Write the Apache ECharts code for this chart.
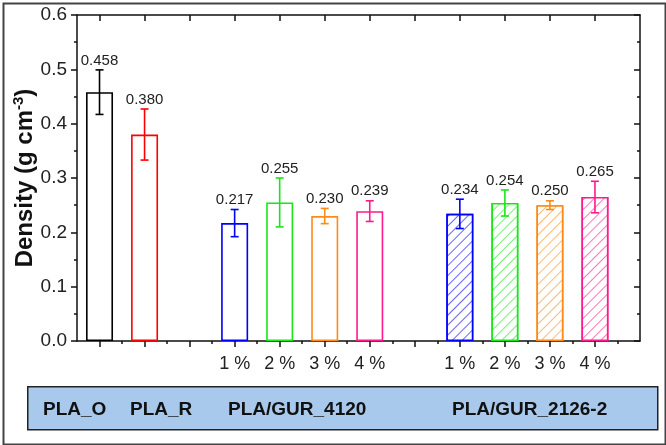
<!DOCTYPE html>
<html>
<head>
<meta charset="utf-8">
<script src="https://cdn.jsdelivr.net/npm/echarts@6/dist/echarts.min.js"></script>
<style>
  html, body { margin: 0; padding: 0; background: #fff; }
  #chart { width: 666px; height: 445px; }
</style>
</head>
<body>
<div id="chart"></div>
<script>
// bar positions on the x scale (3 and 8 are empty gaps)
const xPos = [1, 2, 4, 5, 6, 7, 9, 10, 11, 12];
const density = [0.458, 0.380, 0.217, 0.255, 0.230, 0.239, 0.234, 0.254, 0.250, 0.265];
const densityErr = [0.041, 0.047, 0.025, 0.045, 0.014, 0.019, 0.027, 0.024, 0.008, 0.029];
const hatched = [false, false, false, false, false, false, true, true, true, true];
const barColors = ["#000000", "#ff0000", "#0000ff", "#19e619", "#ff8a1a", "#ff1a8c",
  "#0000ff", "#19e619", "#ff8a1a", "#ff1a8c"];
const pctLabels = ["", "", "1 %", "2 %", "3 %", "4 %", "1 %", "2 %", "3 %", "4 %"];
const groupNames = ["PLA_O", "PLA_R", "PLA/GUR_4120", "PLA/GUR_2126-2"];
const groupNameLeft = [43, 130, 228, 452];

const font = "Liberation Sans, Arial, sans-serif";
const chart = echarts.init(document.getElementById("chart"));

const majorX = [];
const minorX = [];
for (let i = 1; i <= 12; i++) {
  majorX.push(i);
  minorX.push(i + 0.5);
}

const barData = xPos.map((x, i) => {
  const style = {
    color: "#ffffff",
    borderColor: barColors[i],
    borderWidth: 1.6,
  };
  if (hatched[i]) {
    style.decal = {
      symbol: "rect",
      symbolSize: 1,
      dashArrayX: [1, 0],
      dashArrayY: [1, 6],
      rotation: -Math.PI / 4,
      color: barColors[i] + "99",
      backgroundColor: "#ffffff",
    };
  }
  return { value: [x, density[i]], itemStyle: style };
});

const errData = xPos.map((x, i) => [x, density[i], densityErr[i], i]);

const option = {
  animation: false,
  textStyle: { fontFamily: font },
  grid: { left: 77, right: 26, top: 15, bottom: 104, containLabel: false, outerBoundsMode: "none" },
  xAxis: [
    {
      type: "value",
      min: 0.5,
      max: 13,
      position: "bottom",
      splitLine: { show: false },
      axisLine: { show: true, onZero: false, lineStyle: { color: "#111", width: 1.5 } },
      axisTick: { show: true, inside: false, length: 6, customValues: majorX, lineStyle: { color: "#111", width: 1.5 } },
      axisLabel: {
        customValues: xPos,
        fontSize: 18,
        color: "#222",
        margin: 14,
        formatter: (v) => pctLabels[xPos.indexOf(v)] || "",
      },
    },
    {
      type: "value",
      min: 0.5,
      max: 13,
      position: "top",
      splitLine: { show: false },
      axisLine: { show: true, onZero: false, lineStyle: { color: "#111", width: 1.5 } },
      axisTick: { show: true, inside: true, length: 6, customValues: majorX, lineStyle: { color: "#111", width: 1.5 } },
      axisLabel: { show: false },
    },
    {
      type: "value",
      min: 0.5,
      max: 13,
      position: "top",
      splitLine: { show: false },
      axisLine: { show: false },
      axisTick: { show: true, inside: true, length: 3, customValues: minorX, lineStyle: { color: "#111", width: 1.5 } },
      axisLabel: { show: false },
    },
  ],
  yAxis: [
    {
      type: "value",
      min: 0,
      max: 0.6,
      interval: 0.1,
      position: "left",
      name: "{b|Density (g cm}{s|-3}{b|)}",
      nameLocation: "middle",
      nameRotate: 90,
      nameGap: 38,
      nameMoveOverlap: false,
      nameTextStyle: {
        rich: {
          b: { fontSize: 24, fontWeight: "bold", color: "#111", fontFamily: font, lineHeight: 28 },
          s: { fontSize: 15, fontWeight: "bold", color: "#111", fontFamily: font, verticalAlign: "top", lineHeight: 28, padding: [0, 0, 9, 0] },
        },
      },
      splitLine: { show: false },
      axisLine: { show: true, lineStyle: { color: "#111", width: 1.5 } },
      axisTick: { show: true, inside: false, length: 6, lineStyle: { color: "#111", width: 1.5 } },
      minorTick: { show: true, splitNumber: 2, length: 3, lineStyle: { color: "#111", width: 1.5 } },
      axisLabel: {
        fontSize: 19,
        color: "#222",
        margin: 10,
        formatter: (v) => v.toFixed(1),
      },
    },
    {
      type: "value",
      min: 0,
      max: 0.6,
      interval: 0.1,
      position: "right",
      splitLine: { show: false },
      axisLine: { show: true, lineStyle: { color: "#111", width: 1.5 } },
      axisTick: { show: true, inside: true, length: 6, lineStyle: { color: "#111", width: 1.5 } },
      minorTick: { show: true, splitNumber: 2, length: 3, lineStyle: { color: "#111", width: 1.5 } },
      axisLabel: { show: false },
    },
  ],
  series: [
    {
      type: "bar",
      xAxisIndex: 0,
      yAxisIndex: 0,
      barWidth: 27,
      data: barData,
    },
    {
      type: "custom",
      xAxisIndex: 0,
      yAxisIndex: 0,
      z: 5,
      data: errData,
      renderItem: function (params, api) {
        const x = api.value(0);
        const y = api.value(1);
        const e = api.value(2);
        const c = barColors[api.value(3)];
        const top = api.coord([x, y + e]);
        const bot = api.coord([x, y - e]);
        const hw = 4;
        const ls = { stroke: c, lineWidth: 1.6 };
        return {
          type: "group",
          children: [
            { type: "line", shape: { x1: top[0], y1: top[1], x2: bot[0], y2: bot[1] }, style: ls },
            { type: "line", shape: { x1: top[0] - hw, y1: top[1], x2: top[0] + hw, y2: top[1] }, style: ls },
            { type: "line", shape: { x1: bot[0] - hw, y1: bot[1], x2: bot[0] + hw, y2: bot[1] }, style: ls },
            {
              type: "text",
              style: {
                text: y.toFixed(3),
                x: top[0],
                y: top[1] - 2,
                align: "center",
                verticalAlign: "bottom",
                fontSize: 15,
                fontFamily: font,
                fill: "#222",
              },
            },
          ],
        };
      },
    },
  ],
  graphic: [
    {
      type: "rect",
      left: 1,
      top: 1,
      shape: { width: 662, height: 441 },
      style: { fill: "none", stroke: "#444", lineWidth: 2 },
      z: 100,
    },
    {
      type: "rect",
      left: 27,
      top: 386,
      shape: { width: 630, height: 43 },
      style: { fill: "#a8c9ec", stroke: "#222", lineWidth: 1.5 },
      z: 10,
    },
  ].concat(
    groupNames.map((name, i) => ({
      type: "text",
      left: groupNameLeft[i],
      top: 400,
      z: 11,
      style: {
        text: name,
        fontSize: 19,
        fontWeight: "bold",
        fontFamily: font,
        fill: "#111",
      },
    }))
  ),
};

chart.setOption(option);
</script>
</body>
</html>
